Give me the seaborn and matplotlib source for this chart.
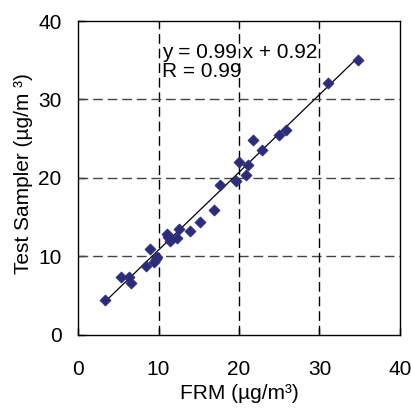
import numpy as np
import pandas as pd
import seaborn as sns
import matplotlib
matplotlib.use("Agg")
import matplotlib.pyplot as plt

# valeurs
frm = [3.4, 5.3, 6.3, 6.55, 8.4, 8.9, 9.4, 9.65, 9.8, 11.1, 11.2, 11.4, 12.3,
       12.6, 13.9, 15.1, 16.9, 17.7, 19.6, 20.0, 20.9, 21.1, 21.8, 22.9,
       25.0, 25.8, 31.1, 34.75]
test = [4.4, 7.4, 7.4, 6.6, 8.8, 10.9, 9.3, 9.7, 9.9, 12.9, 12.5, 12.0, 12.4,
        13.5, 13.3, 14.4, 15.9, 19.1, 19.6, 22.1, 20.4, 21.7, 24.9, 23.6,
        25.5, 26.1, 32.1, 35.0]
slope = 0.99
intercept = 0.92
r_value = 0.99
ticks = [0, 10, 20, 30, 40]

df = pd.DataFrame({"FRM": frm, "Test": test})
fit = pd.DataFrame({"x": [min(frm), max(frm)]})
fit["y"] = slope * fit["x"] + intercept

sns.set_theme(style="white")
plt.rcParams["font.family"] = ["Liberation Sans", "DejaVu Sans"]
plt.rcParams["text.color"] = "black"
plt.rcParams["axes.labelcolor"] = "black"

fig = plt.figure(figsize=(4.11, 4.12), dpi=100)
ax = fig.add_axes([0.19, 0.187, 0.783, 0.762])

sns.lineplot(data=fit, x="x", y="y", color="black", linewidth=0.9, ax=ax)
sns.scatterplot(data=df, x="FRM", y="Test", marker="D", s=32, color="#2B2C7C",
                edgecolor="#2B2C7C", linewidth=0.5, ax=ax, zorder=3)

ax.set_xlim(0, 40)
ax.set_ylim(0, 40)
ax.set_xticks(ticks)
ax.set_yticks(ticks)
# grille en tirets
for v in ticks[1:-1]:
    ax.axvline(v, color="black", linestyle=(0, (7, 3.5)), linewidth=1, zorder=1)
    ax.axhline(v, color="#444444", linestyle=(0, (7, 3.5)), linewidth=1, zorder=1)

ax.tick_params(direction="in", length=5, width=1, labelsize=15,
               colors="black", left=True, bottom=True)
ax.tick_params(axis="y", pad=12)
ax.tick_params(axis="x", pad=18)
for sp in ax.spines.values():
    sp.set_color("black")
    sp.set_linewidth(1)

ax.text(10.4, 35.3, f"y = {slope} x + {intercept}", fontsize=15, va="baseline")
ax.text(10.4, 32.9, f"R = {r_value}", fontsize=15, va="baseline")

ax.set_xlabel("FRM (µg/m³)", fontsize=15)
ax.set_ylabel("Test Sampler (µg/m ³)", fontsize=15)
ax.xaxis.set_label_coords(0.5, -0.155)
ax.yaxis.set_label_coords(-0.14, 0.514)

fig.savefig("out.png", dpi=100)
